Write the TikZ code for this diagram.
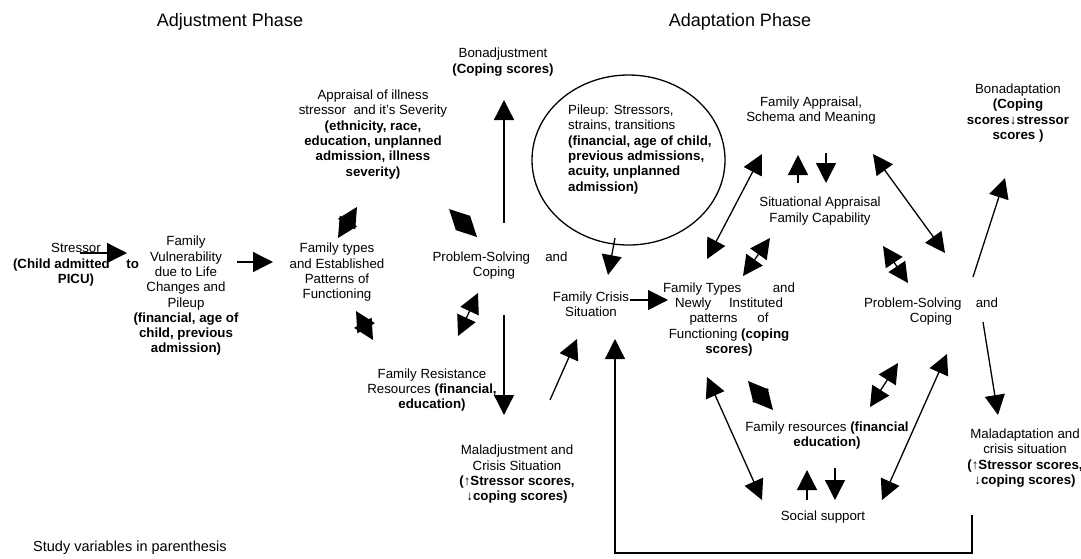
\documentclass[tikz,border=0pt]{standalone}
\usepackage{fontspec}
\setmainfont{Liberation Sans}
\usetikzlibrary{arrows.meta,shapes.geometric}
\begin{document}
\begin{tikzpicture}[x=1pt,y=-1pt,
  txt/.style={align=center,inner sep=0pt,font=\fontsize{13.3}{15.3}\selectfont},
  ttl/.style={inner sep=0pt,font=\fontsize{18}{20}\selectfont},
  note/.style={inner sep=0pt,font=\fontsize{14.5}{16}\selectfont},
  arr/.style={-{Triangle[length=20pt,width=20pt]},line width=1.3pt},
  darr/.style={{Triangle[length=20pt,width=20pt]}-{Triangle[length=20pt,width=20pt]},line width=1.3pt},
  conn/.style={line width=1.3pt}]
\useasboundingbox (0,0) rectangle (1081,558);
% titles
\node[ttl] (t1) at (230,22) {Adjustment Phase};
\node[ttl] (t2) at (740,22) {Adaptation Phase};
% adjustment phase nodes
\node[txt] (stressor) at (76,265) {Stressor\\\makebox[126pt]{\textbf{(Child admitted}\hfill\textbf{to}}\\\textbf{PICU)}};
\node[txt] (vuln) at (186,296) {Family\\Vulnerability\\due to Life\\Changes and\\Pileup\\\textbf{(financial, age of}\\\textbf{child, previous}\\\textbf{admission)}};
\node[txt] (ftypes) at (337,272.5) {Family types\\and Established\\Patterns of\\Functioning};
\node[txt] (apprais) at (373,134.5) {Appraisal of illness\\stressor\ \ and it's Severity\\\textbf{(ethnicity, race,}\\\textbf{education, unplanned}\\\textbf{admission, illness}\\\textbf{severity)}};
\node[txt] (bonadj) at (503,62) {Bonadjustment\\\textbf{(Coping scores)}};
\node[txt] (psc1) at (500,265.5) {\makebox[135pt]{Problem-Solving\hfill and}\\Coping\hspace*{12pt}};
\node[txt] (resist) at (432,390) {Family Resistance\\Resources \textbf{(financial,}\\\textbf{education)}};
\node[txt] (maladj) at (517,474.5) {Maladjustment and\\Crisis Situation\\\textbf{(↑Stressor scores,}\\\textbf{↓coping scores)}};
% adaptation phase nodes
\node[draw,ellipse,line width=1.3pt,minimum width=193pt,minimum height=170pt,inner sep=0pt] (pile) at (628.5,160) {};
\node[txt,align=left,anchor=west] (piletxt) at (568,149.5) {Pileup: Stressors,\\strains, transitions\\\textbf{(financial, age of child,}\\\textbf{previous admissions,}\\\textbf{acuity, unplanned}\\\textbf{admission)}};
\node[txt] (crisis) at (591,304) {Family Crisis\\Situation};
\node[txt] (ntypes) at (729,319.5) {\makebox[132pt]{Family Types\hfill and}\\\makebox[108pt]{Newly\hfill Instituted}\\\makebox[79pt]{patterns\hfill of}\\Functioning \textbf{(coping}\\\textbf{scores)}};
\node[txt] (fapp) at (811,110.5) {Family Appraisal,\\Schema and Meaning};
\node[txt] (sitapp) at (820,211) {Situational Appraisal\\Family Capability};
\node[txt] (bonadap) at (1018,113) {Bonadaptation\\\textbf{(Coping}\\\textbf{scores↓stressor}\\\textbf{scores )}};
\node[txt] (psc2) at (931,311.5) {\makebox[134pt]{Problem-Solving\hfill and}\\Coping};
\node[txt] (maladap) at (1025,458) {Maladaptation and\\crisis situation\\\textbf{(↑Stressor scores,}\\\textbf{↓coping scores)}};
\node[txt] (fres) at (827,435.5) {Family resources \textbf{(financial}\\\textbf{education)}};
\node[txt] (soc) at (823,517) {Social support};
\node[note,anchor=west] (study) at (33,548) {Study variables in parenthesis};
% connector end points
\coordinate (a1s) at (80,253);   \coordinate (a1e) at (127,253);
\coordinate (a2s) at (237,262);  \coordinate (a2e) at (273,262);
\coordinate (d1s) at (338,238);  \coordinate (d1e) at (357,207);
\coordinate (d2s) at (449,209);  \coordinate (d2e) at (477,237);
\coordinate (d3s) at (356,311);  \coordinate (d3e) at (373,340);
\coordinate (d4s) at (458,336);  \coordinate (d4e) at (478,293);
\coordinate (a7s) at (504,223);  \coordinate (a7e) at (504,100);
\coordinate (a8s) at (504,315);  \coordinate (a8e) at (504,415);
\coordinate (a9s) at (550,400);  \coordinate (a9e) at (577,339);
\coordinate (a10s) at (615,238); \coordinate (a10e) at (608,275);
\coordinate (a11s) at (630,300); \coordinate (a11e) at (668,300);
\coordinate (l1s) at (707,259);  \coordinate (l1e) at (762,154);
\coordinate (s1s) at (743,276);  \coordinate (s1e) at (770,238);
\coordinate (u1s) at (798,183);  \coordinate (u1e) at (798,155);
\coordinate (v1s) at (826,153);  \coordinate (v1e) at (826,183);
\coordinate (l2s) at (873,154);  \coordinate (l2e) at (945,253);
\coordinate (s2s) at (883,246);  \coordinate (s2e) at (908,283);
\coordinate (a18s) at (973,277); \coordinate (a18e) at (1005,178);
\coordinate (a19s) at (983,322); \coordinate (a19e) at (998,415);
\coordinate (l3s) at (947,354);  \coordinate (l3e) at (882,500);
\coordinate (s3s) at (898,363);  \coordinate (s3e) at (870,407);
\coordinate (d5s) at (748,381);  \coordinate (d5e) at (773,410);
\coordinate (l4s) at (707,377);  \coordinate (l4e) at (762,500);
\coordinate (u2s) at (807,500);  \coordinate (u2e) at (807,470);
\coordinate (v2s) at (835,468);  \coordinate (v2e) at (835,500);
\coordinate (fb1) at (972,515);  \coordinate (fb2) at (972,553);
\coordinate (fb3) at (615,553);  \coordinate (fb4) at (615,339);
% connectors
\draw[arr] (a1s) -- (a1e);
\draw[arr] (a2s) -- (a2e);
\draw[darr] (d1s) -- (d1e);
\draw[darr] (d2s) -- (d2e);
\draw[darr] (d3s) -- (d3e);
\draw[darr] (d4s) -- (d4e);
\draw[arr] (a7s) -- (a7e);
\draw[arr] (a8s) -- (a8e);
\draw[arr] (a9s) -- (a9e);
\draw[arr] (a10s) -- (a10e);
\draw[arr] (a11s) -- (a11e);
\draw[darr] (l1s) -- (l1e);
\draw[darr] (s1s) -- (s1e);
\draw[arr] (u1s) -- (u1e);
\draw[arr] (v1s) -- (v1e);
\draw[darr] (l2s) -- (l2e);
\draw[darr] (s2s) -- (s2e);
\draw[arr] (a18s) -- (a18e);
\draw[arr] (a19s) -- (a19e);
\draw[darr] (l3s) -- (l3e);
\draw[darr] (s3s) -- (s3e);
\draw[darr] (d5s) -- (d5e);
\draw[darr] (l4s) -- (l4e);
\draw[arr] (u2s) -- (u2e);
\draw[arr] (v2s) -- (v2e);
\draw[arr] (fb1) -- (fb2) -- (fb3) -- (fb4);
\end{tikzpicture}
\end{document}
